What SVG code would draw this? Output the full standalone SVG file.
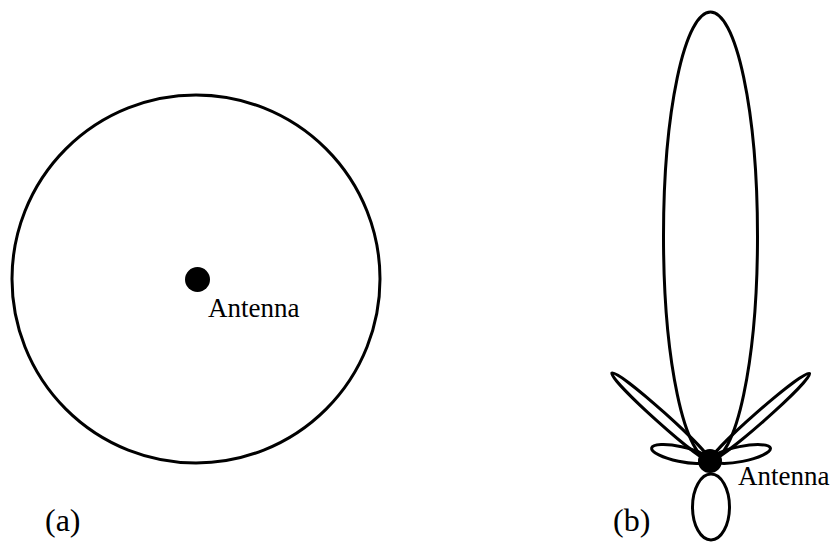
<svg xmlns="http://www.w3.org/2000/svg" width="834" height="542" viewBox="0 0 834 542">
<style>
.ln{fill:none;stroke:#000;stroke-width:3}
.dot{fill:#000}
text{font-family:'Liberation Serif','Times New Roman',serif;fill:#000}
</style>
<rect width="834" height="542" fill="#fff"/>
<g id="pattern-a">
<circle class="ln" cx="196" cy="279" r="184"/>
</g>
<g id="antenna-a">
<circle class="dot" cx="197.5" cy="279.5" r="12.5"/>
<text x="208" y="317" font-size="27">Antenna</text>
</g>
<g id="label-a"><text x="45" y="531" font-size="32">(a)</text></g>
<g id="pattern-b">
<ellipse class="ln" cx="710.5" cy="236" rx="47" ry="224"/>
<ellipse class="ln" cx="661" cy="417" rx="66" ry="5.5" transform="rotate(41.9 661 417)"/>
<ellipse class="ln" cx="760" cy="417" rx="66" ry="5.5" transform="rotate(-41.3 760 417)"/>
<ellipse class="ln" cx="680" cy="454" rx="29" ry="7.5" transform="rotate(11.9 680 454)"/>
<ellipse class="ln" cx="741" cy="454" rx="30" ry="7.5" transform="rotate(-11.3 741 454)"/>
<ellipse class="ln" cx="711" cy="507" rx="18.5" ry="33"/>
</g>
<g id="antenna-b">
<circle class="dot" cx="710" cy="461" r="12"/>
<text x="738" y="485" font-size="27">Antenna</text>
</g>
<g id="label-b"><text x="613" y="531" font-size="32">(b)</text></g>
</svg>
